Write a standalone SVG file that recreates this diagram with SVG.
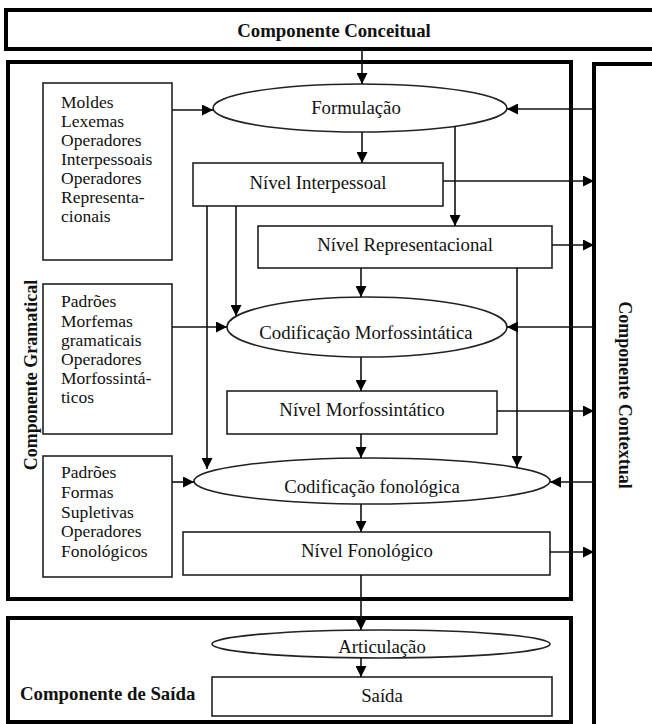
<svg xmlns="http://www.w3.org/2000/svg" width="652" height="724" viewBox="0 0 652 724">
<style>
.outer{fill:none;stroke:#000;stroke-width:4}
.node{fill:#fff;stroke:#222;stroke-width:1.6}
.t{font-family:"Liberation Serif","Times New Roman",serif;font-size:18.8px;fill:#111;text-anchor:middle}
.lst{font-family:"Liberation Serif","Times New Roman",serif;font-size:17.5px;fill:#111}
.b{font-family:"Liberation Serif","Times New Roman",serif;font-size:18px;font-weight:bold;fill:#111}
.bh{font-size:18.8px}
.c{fill:none;stroke:#111;stroke-width:1.6}
</style>
<defs>
<marker id="ah" markerUnits="userSpaceOnUse" markerWidth="11" markerHeight="11" refX="11" refY="5.5" orient="auto">
<path d="M0,0 L11,5.5 L0,11 z" fill="#000"/>
</marker>
</defs>
<rect width="652" height="724" fill="#fff"/>

<g id="conceitual">
<rect class="outer" x="6" y="10" width="700" height="39"/>
<text class="b bh" x="334" y="37" text-anchor="middle">Componente Conceitual</text>
</g>
<g id="gramatical">
<rect class="outer" x="8" y="62" width="563" height="537"/>
<text class="b" transform="translate(37,375) rotate(-90)" text-anchor="middle">Componente Gramatical</text>
</g>
<g id="contextual">
<rect class="outer" x="594" y="64" width="120" height="700"/>
<text class="b" transform="translate(619,395) rotate(90)" text-anchor="middle">Componente Contextual</text>
</g>
<g id="saida-comp">
<rect class="outer" x="8" y="618" width="563" height="104"/>
<text class="b bh" x="20" y="700">Componente de Saída</text>
</g>

<g id="moldes">
<rect class="node" x="43" y="83" width="129" height="177"/>
<text class="lst" x="61" y="108">Moldes</text>
<text class="lst" x="61" y="127">Lexemas</text>
<text class="lst" x="61" y="146">Operadores</text>
<text class="lst" x="61" y="165">Interpessoais</text>
<text class="lst" x="61" y="184">Operadores</text>
<text class="lst" x="61" y="203">Representa-</text>
<text class="lst" x="61" y="222">cionais</text>
</g>
<g id="padroes1">
<rect class="node" x="43" y="284" width="129" height="150"/>
<text class="lst" x="61" y="307">Padrões</text>
<text class="lst" x="61" y="327">Morfemas</text>
<text class="lst" x="61" y="346">gramaticais</text>
<text class="lst" x="61" y="365">Operadores</text>
<text class="lst" x="61" y="384">Morfossintá-</text>
<text class="lst" x="61" y="403">ticos</text>
</g>
<g id="padroes2">
<rect class="node" x="43" y="456" width="129" height="121"/>
<text class="lst" x="61" y="478">Padrões</text>
<text class="lst" x="61" y="498">Formas</text>
<text class="lst" x="61" y="518">Supletivas</text>
<text class="lst" x="61" y="537">Operadores</text>
<text class="lst" x="61" y="557">Fonológicos</text>
</g>

<g id="formulacao">
<ellipse class="node" cx="360" cy="108" rx="147" ry="24"/>
<text class="t" x="356" y="114">Formulação</text>
</g>
<g id="nivel-interpessoal">
<rect class="node" x="193" y="163" width="250" height="43"/>
<text class="t" x="318" y="189">Nível Interpessoal</text>
</g>
<g id="nivel-representacional">
<rect class="node" x="258" y="226" width="294" height="42"/>
<text class="t" x="405" y="251">Nível Representacional</text>
</g>
<g id="codif-morf">
<ellipse class="node" cx="367" cy="327" rx="140" ry="30"/>
<text class="t" x="366" y="339">Codificação Morfossintática</text>
</g>
<g id="nivel-morf">
<rect class="node" x="227" y="391" width="270" height="43"/>
<text class="t" x="362" y="416">Nível Morfossintático</text>
</g>
<g id="codif-fon">
<ellipse class="node" cx="372" cy="481" rx="178" ry="23"/>
<text class="t" x="372" y="493">Codificação fonológica</text>
</g>
<g id="nivel-fon">
<rect class="node" x="183" y="532" width="367" height="43"/>
<text class="t" x="367" y="557">Nível Fonológico</text>
</g>
<g id="articulacao">
<ellipse class="node" cx="381" cy="644" rx="169" ry="14"/>
<text class="t" x="382" y="653">Articulação</text>
</g>
<g id="saida">
<rect class="node" x="212" y="677" width="340" height="39"/>
<text class="t" x="382" y="702">Saída</text>
</g>

<g id="connectors">
<line class="c" x1="362" y1="49" x2="362" y2="84" marker-end="url(#ah)"/>
<line class="c" x1="172" y1="110" x2="213" y2="110" marker-end="url(#ah)"/>
<line class="c" x1="594" y1="109" x2="507" y2="109" marker-end="url(#ah)"/>
<line class="c" x1="362" y1="132" x2="362" y2="163" marker-end="url(#ah)"/>
<line class="c" x1="455" y1="126" x2="455" y2="226" marker-end="url(#ah)"/>
<line class="c" x1="443" y1="181" x2="594" y2="181" marker-end="url(#ah)"/>
<line class="c" x1="552" y1="245" x2="594" y2="245" marker-end="url(#ah)"/>
<line class="c" x1="207" y1="206" x2="207" y2="469" marker-end="url(#ah)"/>
<line class="c" x1="236" y1="206" x2="236" y2="316" marker-end="url(#ah)"/>
<line class="c" x1="361" y1="268" x2="361" y2="297" marker-end="url(#ah)"/>
<line class="c" x1="517" y1="268" x2="517" y2="467" marker-end="url(#ah)"/>
<line class="c" x1="172" y1="327" x2="227" y2="327" marker-end="url(#ah)"/>
<line class="c" x1="594" y1="327" x2="507" y2="327" marker-end="url(#ah)"/>
<line class="c" x1="361" y1="357" x2="361" y2="391" marker-end="url(#ah)"/>
<line class="c" x1="497" y1="411" x2="594" y2="411" marker-end="url(#ah)"/>
<line class="c" x1="361" y1="434" x2="361" y2="458" marker-end="url(#ah)"/>
<line class="c" x1="172" y1="482" x2="194" y2="482" marker-end="url(#ah)"/>
<line class="c" x1="594" y1="482" x2="550" y2="482" marker-end="url(#ah)"/>
<line class="c" x1="361" y1="504" x2="361" y2="532" marker-end="url(#ah)"/>
<line class="c" x1="550" y1="552" x2="594" y2="552" marker-end="url(#ah)"/>
<line class="c" x1="361" y1="575" x2="361" y2="630" marker-end="url(#ah)"/>
<line class="c" x1="361" y1="658" x2="361" y2="677" marker-end="url(#ah)"/>
</g>
</svg>
